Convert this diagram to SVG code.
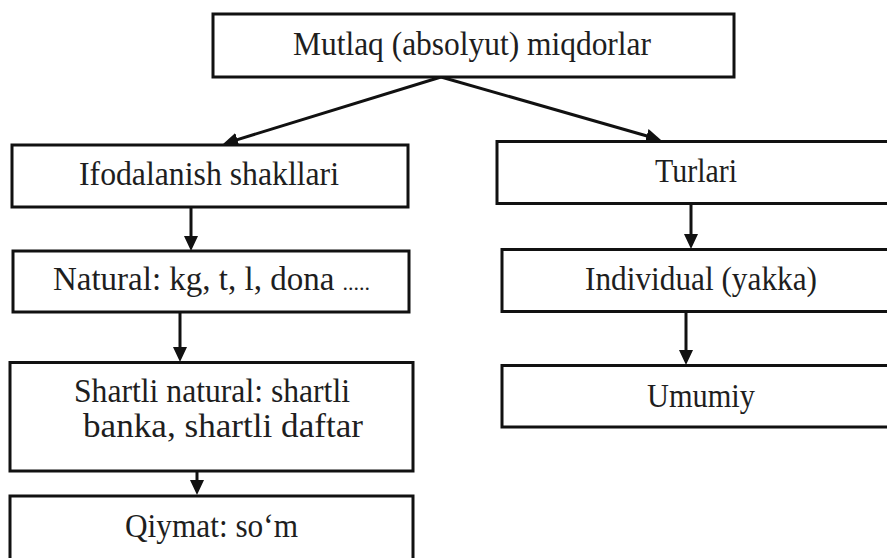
<svg xmlns="http://www.w3.org/2000/svg" width="887" height="558" viewBox="0 0 887 558">
  <style>
    .box { fill: #ffffff; stroke: #111111; stroke-width: 3; }
    .lbl { font-family: 'Liberation Serif', 'DejaVu Serif', serif; font-size: 33px; fill: #1e1e1e; text-anchor: middle; }
    .conn { stroke: #111111; stroke-width: 3; fill: none; marker-end: url(#arrow); }
  </style>
  <defs>
    <marker id="arrow" markerUnits="userSpaceOnUse" markerWidth="16" markerHeight="14" refX="5" refY="7" orient="auto">
      <path d="M0,0 L15,7 L0,14 Z" fill="#111111"/>
    </marker>
  </defs>
  <rect x="0" y="0" width="887" height="558" fill="#ffffff"/>

  <g id="connectors">
    <line class="conn" x1="441" y1="77" x2="232.6" y2="141.1"/>
    <line class="conn" x1="441" y1="77" x2="651.4" y2="137.2"/>
    <line class="conn" x1="191" y1="207" x2="191" y2="241"/>
    <line class="conn" x1="180" y1="312" x2="180" y2="352"/>
    <line class="conn" x1="197" y1="471" x2="197" y2="485"/>
    <line class="conn" x1="691" y1="203" x2="691" y2="239"/>
    <line class="conn" x1="686" y1="311" x2="686" y2="355"/>
  </g>

  <g id="node-mutlaq">
    <rect class="box" x="213" y="14" width="521" height="63"/>
    <text class="lbl" x="472" y="55" textLength="358" lengthAdjust="spacingAndGlyphs">Mutlaq (absolyut) miqdorlar</text>
  </g>
  <g id="node-ifodalanish">
    <rect class="box" x="12" y="145" width="396" height="62"/>
    <text class="lbl" x="209" y="185" textLength="260" lengthAdjust="spacingAndGlyphs">Ifodalanish shakllari</text>
  </g>
  <g id="node-turlari">
    <rect class="box" x="497" y="141.5" width="410" height="62"/>
    <text class="lbl" x="696" y="182" textLength="82" lengthAdjust="spacingAndGlyphs">Turlari</text>
  </g>
  <g id="node-natural">
    <rect class="box" x="13" y="251" width="396" height="61"/>
    <text class="lbl" x="211.5" y="290" font-size="31">Natural: kg, t, l, dona <tspan font-size="22">.....</tspan></text>
  </g>
  <g id="node-individual">
    <rect class="box" x="502" y="249.5" width="400" height="62"/>
    <text class="lbl" x="701" y="290" textLength="232" lengthAdjust="spacingAndGlyphs">Individual (yakka)</text>
  </g>
  <g id="node-shartli">
    <rect class="box" x="10" y="362.5" width="403" height="108.5"/>
    <text class="lbl" x="212" y="402" textLength="276" lengthAdjust="spacingAndGlyphs">Shartli natural: shartli</text>
    <text class="lbl" x="223" y="437" textLength="280" lengthAdjust="spacingAndGlyphs">banka, shartli daftar</text>
  </g>
  <g id="node-umumiy">
    <rect class="box" x="502" y="365.5" width="400" height="61.5"/>
    <text class="lbl" x="701" y="407" textLength="108" lengthAdjust="spacingAndGlyphs">Umumiy</text>
  </g>
  <g id="node-qiymat">
    <rect class="box" x="10" y="496" width="403" height="80"/>
    <text class="lbl" x="211.5" y="537" textLength="173" lengthAdjust="spacingAndGlyphs">Qiymat: so‘m</text>
  </g>
</svg>
